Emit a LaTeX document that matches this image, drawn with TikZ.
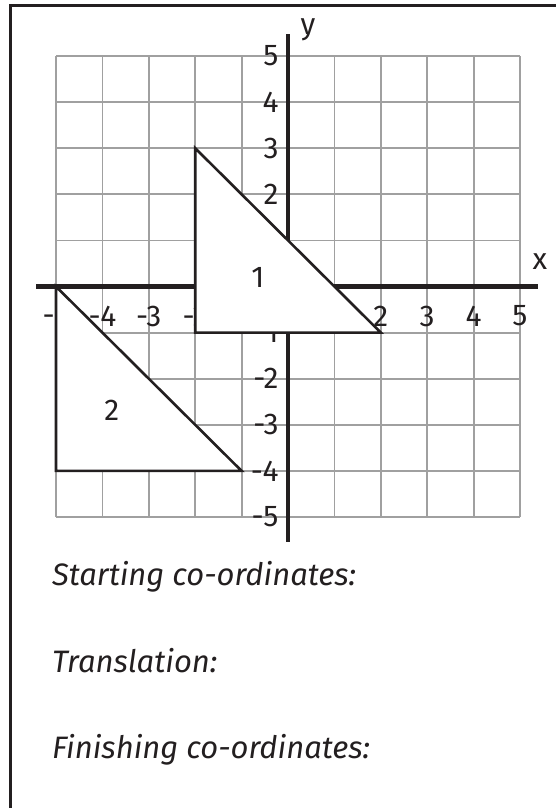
\documentclass[tikz,border=0pt]{standalone}
\usepackage{fontspec}
\setmainfont{Fira Sans}
\definecolor{ink}{HTML}{231F20}
\definecolor{gridgray}{HTML}{A0A0A0}
\tikzset{
  frameline/.style={draw=ink, line width=3pt},
  gridline/.style={draw=gridgray, line width=1.8pt},
  axisline/.style={draw=ink, line width=4.5pt},
  shapeline/.style={draw=ink, fill=white, line width=2.6pt, line join=miter},
  numlbl/.style={text=ink, inner sep=0pt, font=\fontsize{30}{33}\selectfont},
  textlbl/.style={text=ink, inner sep=0pt, anchor=base west, font=\fontsize{31}{34}\selectfont\itshape},
}
\begin{document}
\begin{tikzpicture}[x=1pt,y=1pt]
\useasboundingbox (0,-808) rectangle (555,0);
\coordinate (fb) at (10,-820);
\coordinate (fc) at (10,-6);
\coordinate (fr) at (570,-6);
\draw[frameline] (fb) -- (fc) -- (fr);
\begin{scope}[shift={(288pt,-286.5pt)}, x=46.4pt, y=46.1pt]
  % grid
  \foreach \i in {-5,...,5} {
    \draw[gridline] (\i,-5) -- (\i,5);
    \draw[gridline] (-5,\i) -- (5,\i);
  }
  % axes
  \coordinate (xa) at (-5.43,0);
  \coordinate (xb) at (5.39,0);
  \coordinate (ya) at (0,-5.54);
  \coordinate (yb) at (0,5.48);
  \draw[axisline] (xa) -- (xb);
  \draw[axisline] (ya) -- (yb);
  % tick labels
  \foreach \i in {-5,-4,-3,-2,-1,1,2,3,4,5} {
    \node[numlbl] (xl\i) at (\i,-0.64) {\i};
    \node[numlbl, anchor=east] (yl\i) at (-0.2,\i) {\i};
  }
  % triangle 1
  \coordinate (a1) at (-2,3);
  \coordinate (b1) at (-2,-1);
  \coordinate (c1) at (2,-1);
  \draw[shapeline] (a1) -- (b1) -- (c1) -- cycle;
  % triangle 2
  \coordinate (a2) at (-5,0);
  \coordinate (b2) at (-5,-4);
  \coordinate (c2) at (-1,-4);
  \draw[shapeline] (a2) -- (b2) -- (c2) -- cycle;
  \node[numlbl] (t1) at (-0.65,0.2) {1};
  \node[numlbl] (t2) at (-3.8,-2.68) {2};
  \node[numlbl] (xlab) at (5.43,0.53) {x};
  \node[numlbl] (ylab) at (0.43,5.56) {y};
\end{scope}
\node[textlbl] (s1) at (52,-585) {Starting co-ordinates:};
\node[textlbl] (s2) at (52,-672) {Translation:};
\node[textlbl] (s3) at (52,-758) {Finishing co-ordinates:};
\end{tikzpicture}
\end{document}
